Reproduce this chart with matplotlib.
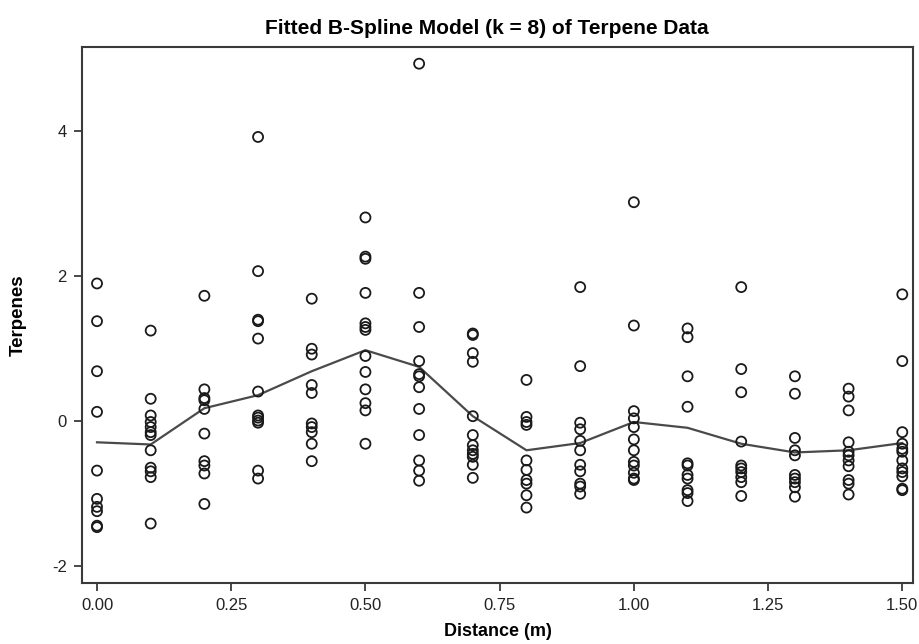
import matplotlib
matplotlib.use("Agg")
import matplotlib.pyplot as plt
from matplotlib import font_manager

# ---- data ----
distances = [0.0, 0.1, 0.2, 0.3, 0.4, 0.5, 0.6, 0.7, 0.8, 0.9, 1.0, 1.1, 1.2, 1.3, 1.4, 1.5]

terp_000 = [1.90, 1.38, 0.69, 0.13, -0.68, -1.07, -1.18, -1.24, -1.44, -1.46]
terp_010 = [1.25, 0.31, 0.08, -0.01, -0.08, -0.15, -0.19, -0.40, -0.64, -0.69, -0.77, -1.41]
terp_020 = [1.73, 0.44, 0.32, 0.29, 0.17, -0.17, -0.55, -0.61, -0.72, -1.14]
terp_030 = [3.92, 2.07, 1.40, 1.38, 1.14, 0.41, 0.08, 0.05, 0.01, -0.02, -0.68, -0.79]
terp_040 = [1.69, 1.00, 0.92, 0.50, 0.39, -0.03, -0.08, -0.15, -0.31, -0.55]
terp_050 = [2.81, 2.27, 2.24, 1.77, 1.35, 1.30, 1.26, 0.90, 0.68, 0.44, 0.25, 0.15, -0.31]
terp_060 = [4.93, 1.77, 1.30, 0.83, 0.65, 0.62, 0.47, 0.17, -0.19, -0.54, -0.68, -0.82]
terp_070 = [1.21, 1.19, 0.94, 0.82, 0.07, -0.19, -0.33, -0.40, -0.45, -0.49, -0.60, -0.78]
terp_080 = [0.57, 0.06, -0.01, -0.05, -0.54, -0.67, -0.81, -0.86, -1.02, -1.19]
terp_090 = [1.85, 0.76, -0.02, -0.11, -0.27, -0.40, -0.60, -0.69, -0.86, -0.90, -1.00]
terp_100 = [3.02, 1.32, 0.14, 0.04, -0.08, -0.25, -0.40, -0.56, -0.61, -0.71, -0.79, -0.81]
terp_110 = [1.28, 1.16, 0.62, 0.20, -0.58, -0.61, -0.74, -0.79, -0.95, -0.99, -1.10]
terp_120 = [1.85, 0.72, 0.40, -0.28, -0.61, -0.65, -0.70, -0.77, -0.84, -1.03]
terp_130 = [0.62, 0.38, -0.23, -0.40, -0.47, -0.74, -0.79, -0.84, -0.91, -1.04]
terp_140 = [0.45, 0.34, 0.15, -0.29, -0.42, -0.47, -0.54, -0.62, -0.81, -0.86, -1.01]
terp_150 = [1.75, 0.83, -0.15, -0.31, -0.38, -0.42, -0.54, -0.65, -0.70, -0.76, -0.93, -0.95]

fitted = [-0.29, -0.32, 0.18, 0.36, 0.69, 0.98, 0.75, 0.07, -0.40, -0.30, -0.01, -0.09, -0.31, -0.43, -0.40, -0.30]

x_ticks = [0.00, 0.25, 0.50, 0.75, 1.00, 1.25, 1.50]
x_tick_labels = ["0.00", "0.25", "0.50", "0.75", "1.00", "1.25", "1.50"]
y_ticks = [-2, 0, 2, 4]
y_tick_labels = ["-2", "0", "2", "4"]

groups = [terp_000, terp_010, terp_020, terp_030, terp_040, terp_050, terp_060, terp_070,
          terp_080, terp_090, terp_100, terp_110, terp_120, terp_130, terp_140, terp_150]

# ---- font ----
avail = {f.name for f in font_manager.fontManager.ttflist}
fam = [f for f in ["Liberation Sans Narrow", "Liberation Sans", "DejaVu Sans"] if f in avail]
plt.rcParams['font.family'] = fam

fig = plt.figure(figsize=(9.19, 6.44), dpi=100)
ax = fig.add_axes([0.0892, 0.0947, 0.9043, 0.8323])

for d, vals in zip(distances, groups):
    ax.scatter([d] * len(vals), vals, s=52, facecolors='none', edgecolors='#1a1a1a',
               linewidths=1.3, zorder=3)

ax.plot(distances, fitted, color='#4a4a4a', linewidth=1.6, zorder=2)

ax.set_xlim(-0.028, 1.52)
ax.set_ylim(-2.23, 5.16)
ax.set_xticks(x_ticks)
ax.set_xticklabels(x_tick_labels)
ax.set_yticks(y_ticks)
ax.set_yticklabels(y_tick_labels)

for sp in ax.spines.values():
    sp.set_color('#3a3a3a')
    sp.set_linewidth(1.5)
ax.tick_params(direction='out', length=6, width=1.3, color='#3a3a3a',
               labelsize=12, labelcolor='#222222', pad=5)

fig.text(487 / 919, 1 - 29 / 644, "Fitted B-Spline Model (k = 8) of Terpene Data",
         fontsize=15, fontweight='bold', ha='center', va='center')
ax.set_xlabel("Distance (m)", fontsize=13, fontweight='bold', labelpad=7)
ax.set_ylabel("Terpenes", fontsize=13.5, fontweight='bold')
ax.yaxis.set_label_coords((27 - 82) / (913 - 82), 0.5)

fig.savefig("out.png", dpi=100)
